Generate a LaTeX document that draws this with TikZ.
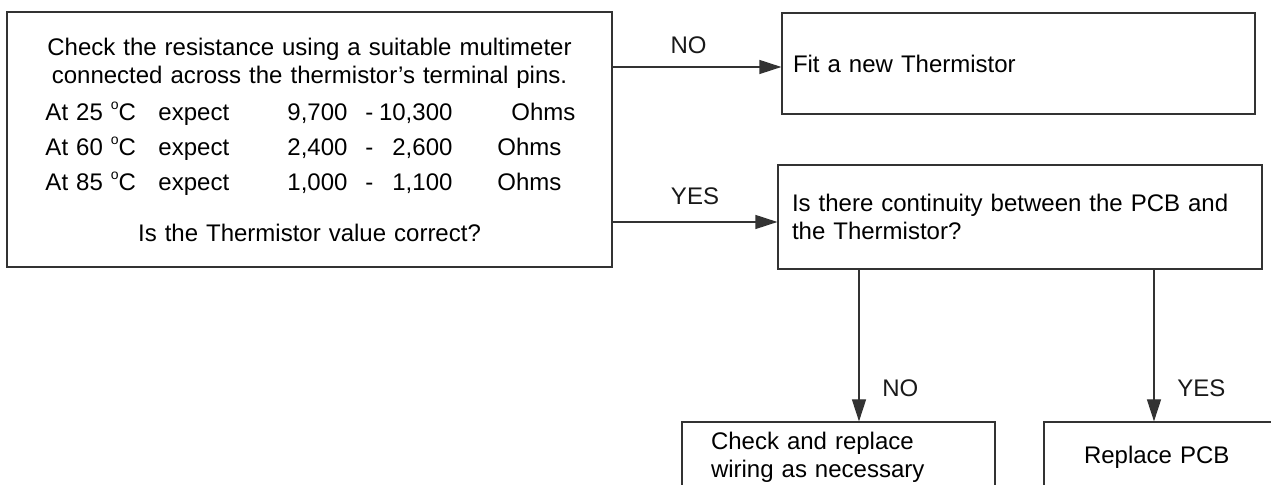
\documentclass[tikz,border=0pt]{standalone}
\usepackage{fontspec}
\setmainfont{Liberation Sans}
\usetikzlibrary{arrows.meta, calc}

% small raised o of the degree sign
\newcommand{\dego}{\raisebox{0.85ex}{\fontsize{7pt}{7pt}\selectfont o}}

% one row of the resistance table
\newcommand{\thermrow}[4]{%
  \makebox[56.5pt][l]{At #1 \dego C}%
  \makebox[64.5pt][l]{expect}%
  \makebox[39pt][l]{#2}%
  \makebox[43.5pt]{-\hfill #3}%
  \makebox[60.5pt][l]{\hspace{#4}Ohms}}

\begin{document}
\begin{tikzpicture}[x=0.5pt, y=-0.5pt,
  box/.style={draw=black!80, line width=0.6pt, align=left, font=\fontsize{12pt}{14pt}\selectfont},
  arr/.style={-{Triangle[length=11pt, width=7pt]}, line width=0.6pt, draw=black!80},
  lbl/.style={font=\fontsize{12pt}{14pt}\selectfont, text=black!90}]

  \useasboundingbox (0,0) rectangle (1271,485);
  \clip (0,0) rectangle (1271,485);

  % ----- Resistance test box -----
  \node[box, align=center, text width=280pt, minimum width=302.5pt,
        minimum height=127.5pt] at (309.5,139.5) (test) {
    Check the resistance using a suitable multimeter\\
    connected across the thermistor’s terminal pins.\\[4.5pt]
    \thermrow{25}{9,700}{10,300}{29.5pt}\\[3.5pt]
    \thermrow{60}{2,400}{2,600}{22.5pt}\\[3.5pt]
    \thermrow{85}{1,000}{1,100}{22.5pt}\\[11.5pt]
    Is the Thermistor value correct?
  };

  % ----- Fit box -----
  \node[box, text width=225.5pt, inner xsep=5.5pt, minimum width=236.5pt,
        minimum height=50.5pt] at (1018.5,63.5) (fit) {Fit a new Thermistor};

  % ----- Continuity box -----
  \node[box, text width=228pt, inner xsep=7pt, minimum width=242pt,
        minimum height=52pt] at (1020,217) (cont) {
    Is there continuity between the PCB and\\
    the Thermistor?
  };

  % ----- Bottom boxes -----
  \node[box, text width=127.5pt, inner xsep=14.5pt, minimum width=156.5pt,
        minimum height=35pt] at (838.5,457) (wiring) {
    Check and replace\\
    wiring as necessary
  };
  \node[box, text width=93pt, inner xsep=20pt, minimum width=133pt,
        minimum height=35pt] at (1177,457) (pcb) {Replace PCB};

  % ----- Arrows from test box -----
  \coordinate (noin) at ([yshift=-1.75pt]fit.west);
  \coordinate (yesin) at ([yshift=-2.5pt]cont.west);
  \draw[arr] (test.east |- noin) -- node[lbl, above=3pt, pos=0.45] (nolbl) {NO} (noin);
  \draw[arr] (test.east |- yesin) -- node[lbl, above=5pt] (yeslbl) {YES} (yesin);

  % ----- Arrows from continuity box -----
  \coordinate (wtop) at ([xshift=10.25pt]wiring.north);
  \coordinate (ptop) at ([xshift=-11.5pt]pcb.north);
  \draw[arr] (cont.south -| wtop) -- node[lbl, right=8pt, pos=0.78] (nolbl2) {NO} (wtop);
  \draw[arr] (cont.south -| ptop) -- node[lbl, right=8pt, pos=0.78] (yeslbl2) {YES} (ptop);

\end{tikzpicture}
\end{document}
